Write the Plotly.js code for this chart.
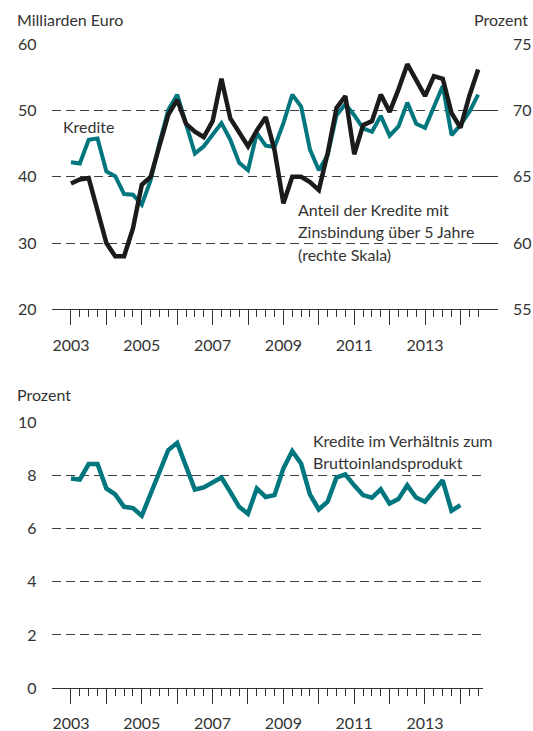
<!DOCTYPE html>
<html><head><meta charset="utf-8">
<script src="https://cdn.plot.ly/plotly-3.0.1.min.js"></script>
<style>html,body{margin:0;padding:0;background:#fff}#chart{width:533px;height:731px}</style>
</head><body><div id="chart"></div>
<script>
// Quarterly positions (decimal years)
const quartersTop = [2003,2003.25,2003.5,2003.75,2004,2004.25,2004.5,2004.75,2005,2005.25,2005.5,2005.75,
  2006,2006.25,2006.5,2006.75,2007,2007.25,2007.5,2007.75,2008,2008.25,2008.5,2008.75,
  2009,2009.25,2009.5,2009.75,2010,2010.25,2010.5,2010.75,2011,2011.25,2011.5,2011.75,
  2012,2012.25,2012.5,2012.75,2013,2013.25,2013.5,2013.75,2014,2014.25,2014.5];
const quartersBottom = [2003,2003.25,2003.5,2003.75,2004,2004.25,2004.5,2004.75,2005,2005.25,2005.5,2005.75,
  2006,2006.25,2006.5,2006.75,2007,2007.25,2007.5,2007.75,2008,2008.25,2008.5,2008.75,
  2009,2009.25,2009.5,2009.75,2010,2010.25,2010.5,2010.75,2011,2011.25,2011.5,2011.75,
  2012,2012.25,2012.5,2012.75,2013,2013.25,2013.5,2013.75,2014];

// Kredite, Milliarden Euro (left scale)
const kredite = [42.2,42.0,45.6,45.8,40.8,40.1,37.4,37.3,35.8,39.5,45.1,50.1,
  52.4,47.8,43.5,44.6,46.3,48.1,45.6,42.1,41.0,46.6,44.7,44.5,
  48.1,52.4,50.6,44.1,41.0,43.3,49.3,51.0,49.3,47.3,46.8,49.2,
  46.2,47.6,51.2,48.0,47.4,50.6,53.7,46.3,47.8,49.8,52.4];

// Anteil der Kredite mit Zinsbindung über 5 Jahre, Prozent (right scale)
const anteil = [64.5,64.8,64.9,62.5,60.0,59.0,59.0,61.1,64.4,65.0,67.3,69.7,
  70.8,69.0,68.4,68.0,69.2,72.4,69.4,68.4,67.3,68.5,69.5,67.0,
  63.0,65.0,65.0,64.6,64.0,66.8,70.2,71.1,66.7,68.9,69.2,71.2,
  69.9,71.6,73.5,72.3,71.1,72.6,72.4,69.8,68.7,71.1,73.1];

// Kredite im Verhältnis zum Bruttoinlandsprodukt, Prozent
const ratio = [7.90,7.86,8.44,8.44,7.52,7.30,6.83,6.78,6.49,7.33,8.21,8.97,
  9.24,8.34,7.48,7.56,7.73,7.93,7.39,6.83,6.57,7.52,7.20,7.27,
  8.27,8.93,8.46,7.30,6.73,7.02,7.93,8.05,7.64,7.27,7.17,7.49,
  6.95,7.12,7.64,7.18,7.02,7.43,7.83,6.68,6.89];

// Tick labels
const yearTicks = [2003,2004,2005,2006,2007,2008,2009,2010,2011,2012,2013,2014];
const yearLabels = ['2003','','2005','','2007','','2009','','2011','','2013',''];
const leftTopTicks = [20,30,40,50,60];
const rightTopTicks = [55,60,65,70,75];
const bottomTicks = [0,2,4,6,8,10];

const W = 533, H = 731;
const px = v => v / W;
const py = v => 1 - v / H;
const minorTicks = quartersTop.filter(q => !yearTicks.includes(q));

const TEAL = '#00767e', BLACK = '#1b1b1b', TXT = '#333333', GRID = '#3f3f3f';
const FONT = 'Lato, "Open Sans", sans-serif';
const tf = {family: FONT, size: 16, color: TXT};

const xCommon = {
  tickmode: 'array', tickvals: yearTicks, ticktext: yearLabels,
  ticks: 'outside', ticklen: 15, tickwidth: 1, tickcolor: TXT,
  minor: {tickmode: 'array', tickvals: minorTicks, ticks: 'outside', ticklen: 7, tickwidth: 1, tickcolor: TXT, showgrid: false},
  showline: true, linecolor: TXT, linewidth: 1, showgrid: false, zeroline: false,
  tickfont: tf, ticklabelstandoff: 6, fixedrange: true
};

const traces = [
  {x: quartersTop, y: anteil, type: 'scatter', mode: 'lines', xaxis: 'x', yaxis: 'y2',
   line: {color: BLACK, width: 4.5}, hoverinfo: 'skip'},
  {x: quartersTop, y: kredite, type: 'scatter', mode: 'lines', xaxis: 'x', yaxis: 'y',
   line: {color: TEAL, width: 4}, hoverinfo: 'skip'},
  {x: quartersBottom, y: ratio, type: 'scatter', mode: 'lines', xaxis: 'x2', yaxis: 'y3',
   line: {color: TEAL, width: 4.5}, hoverinfo: 'skip'}
];

const ann = (text, x, y, xanchor) => ({text, x: px(x), y: py(y), xref: 'paper', yref: 'paper',
  xanchor: xanchor || 'left', yanchor: 'middle', showarrow: false, font: tf});

const layout = {
  width: W, height: H, margin: {l: 0, r: 0, t: 0, b: 0},
  paper_bgcolor: '#fff', plot_bgcolor: '#fff', showlegend: false,
  xaxis: Object.assign({}, xCommon, {domain: [px(51.5), px(498)], range: [2002.45, 2015.06], anchor: 'y'}),
  yaxis: {domain: [py(309.3), py(44.3)], range: [20, 60], tickmode: 'array', tickvals: leftTopTicks,
    showgrid: true, gridcolor: GRID, gridwidth: 1, griddash: '9px,5px', zeroline: false, showline: false,
    ticks: '', tickfont: tf, ticklabelstandoff: 14, fixedrange: true},
  yaxis2: {overlaying: 'y', side: 'right', anchor: 'x', range: [55, 75], tickmode: 'array', tickvals: rightTopTicks,
    showgrid: false, zeroline: false, showline: false, ticks: 'inside', ticklen: 20, tickwidth: 1, tickcolor: TXT,
    tickfont: tf, ticklabelstandoff: 14, fixedrange: true},
  xaxis2: Object.assign({}, xCommon, {domain: [px(51.5), px(483)], range: [2002.45, 2014.64], anchor: 'y3'}),
  yaxis3: {domain: [py(688), py(422.7)], range: [0, 10], tickmode: 'array', tickvals: bottomTicks, anchor: 'x2',
    showgrid: true, gridcolor: GRID, gridwidth: 1, griddash: '9px,5px', zeroline: false, showline: false,
    ticks: '', tickfont: tf, ticklabelstandoff: 14, fixedrange: true},
  annotations: [
    ann('Milliarden Euro', 15, 19),
    ann('Prozent', 530, 19, 'right'),
    ann('Kredite', 61, 127),
    ann('Anteil der Kredite mit', 296, 209),
    ann('Zinsbindung über 5 Jahre', 296, 231.5),
    ann('(rechte Skala)', 296, 254),
    ann('Prozent', 15, 394.5),
    ann('Kredite im Verhältnis zum', 311, 440),
    ann('Bruttoinlandsprodukt', 311, 462)
  ]
};

Plotly.newPlot('chart', traces, layout, {displayModeBar: false, staticPlot: true});
</script>
</body></html>
